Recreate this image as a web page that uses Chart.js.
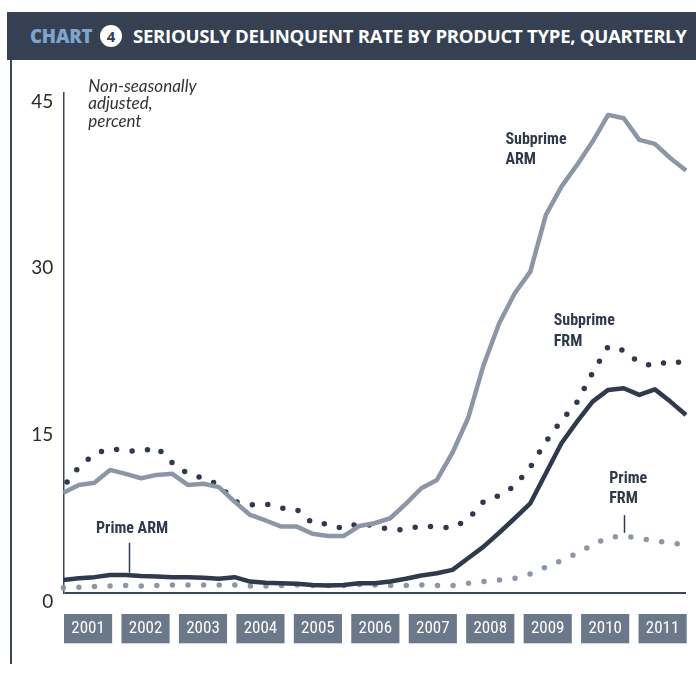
<!DOCTYPE html>
<html>
<head>
<meta charset="utf-8">
<script src="https://cdn.jsdelivr.net/npm/chart.js@4"></script>
<style>
  html, body { margin: 0; padding: 0; background: #fff; }
  #wrap { position: relative; width: 696px; height: 674px; overflow: hidden; }
  #head {
    position: absolute; left: 7px; top: 12px; width: 689px; height: 48px;
    background: #354152; color: #fff; white-space: nowrap;
    font-family: "Open Sans", sans-serif; font-weight: 700;
  }
  #head .lbl { position: absolute; left: 23px; top: 11px; font-size: 18.6px; font-weight: 800; color: #7da5cf; letter-spacing: -0.2px; }
  #head .num {
    position: absolute; left: 93px; top: 13px; width: 22px; height: 22px; border-radius: 50%;
    background: #fff; color: #354152; font-size: 15px; line-height: 22px; text-align: center;
  }
  #head .ttl { position: absolute; left: 126px; top: 11px; font-size: 18.6px; letter-spacing: -0.3px; }
  #rule { position: absolute; left: 10px; top: 60px; width: 2px; height: 604px; background: #3b4657; }
  canvas { position: absolute; left: 0; top: 0; }
</style>
</head>
<body>
<div id="wrap">
  <canvas id="c" width="696" height="674"></canvas>
  <div id="head"><span class="lbl">CHART</span><span class="num">4</span><span class="ttl">SERIOUSLY DELINQUENT RATE BY PRODUCT TYPE, QUARTERLY</span></div>
  <div id="rule"></div>
</div>
<script>
// quarterly, 2001 Q1 .. 2011 Q1
const years = ["2001", "2002", "2003", "2004", "2005", "2006", "2007", "2008", "2009", "2010", "2011"];
const quarters = years.flatMap(y => ["Q1", "Q2", "Q3", "Q4"].map(q => y + " " + q)).slice(0, 41);
const yTicks = [0, 15, 30, 45];

const subprimeArm = [9.0, 9.7, 9.9, 11.05, 10.7, 10.3, 10.6, 10.7, 9.7, 9.8, 9.5, 8.2, 7.0, 6.5, 5.95, 5.95,
  5.3, 5.1, 5.1, 6.0, 6.25, 6.7, 8.0, 9.4, 10.15, 12.6, 15.7, 20.5, 24.25, 26.95, 28.9, 34.0,
  36.55, 38.5, 40.6, 43.0, 42.7, 40.75, 40.4, 39.1, 38.0];
const subprimeFrm = [9.55, 11.3, 12.5, 12.95, 12.8, 12.7, 13.1, 11.7, 10.7, 10.3, 9.7, 8.2, 7.9, 8.0, 7.6, 7.5,
  6.25, 6.2, 5.75, 6.25, 6.0, 5.7, 5.65, 6.05, 5.9, 5.85, 6.6, 8.2, 8.75, 9.6, 11.3, 13.6,
  15.5, 17.15, 19.8, 22.15, 21.8, 20.7, 20.4, 20.9, 20.6];
const primeArm = [1.15, 1.3, 1.4, 1.6, 1.6, 1.5, 1.45, 1.4, 1.4, 1.35, 1.25, 1.4, 1.0, 0.9, 0.85, 0.8,
  0.7, 0.65, 0.7, 0.85, 0.85, 1.0, 1.25, 1.55, 1.75, 2.05, 3.1, 4.15, 5.4, 6.7, 8.05, 10.75,
  13.45, 15.4, 17.2, 18.25, 18.4, 17.8, 18.3, 17.2, 16.0];
const primeFrm = [0.45, 0.5, 0.55, 0.6, 0.65, 0.6, 0.65, 0.7, 0.7, 0.7, 0.7, 0.7, 0.6, 0.6, 0.65, 0.7,
  0.65, 0.65, 0.65, 0.75, 0.7, 0.65, 0.65, 0.7, 0.65, 0.65, 0.85, 1.0, 1.15, 1.3, 1.7, 2.3,
  2.9, 3.55, 4.3, 5.0, 5.1, 4.9, 4.65, 4.5, 4.3];

const NAVY = "#2f3b4c";
const GREY = "#8b97a6";
const narrow = '"Liberation Sans Narrow", "Roboto Condensed", "Arial Narrow", sans-serif';

// series labels: [text lines, quarter index, value of first baseline, leader line or null]
const notes = [
  { lines: ["Subprime", "ARM"], x: 28.4, y: 40.4, lead: null },
  { lines: ["Subprime", "FRM"], x: 31.5, y: 24.05, lead: null },
  { lines: ["Prime", "FRM"], x: 35.07, y: 9.9, lead: [36, 6.98, 5.39] },
  { lines: ["Prime ARM"], x: 2.1, y: 5.4, lead: [4.22, 4.5, 1.8] }
];

const extras = {
  id: "extras",
  afterDatasetsDraw(chart) {
    const { ctx, chartArea: a, scales: { x, y } } = chart;
    ctx.save();
    // unit note
    ctx.fillStyle = "#333";
    ctx.font = 'italic 17px Lato, sans-serif';
    ctx.textAlign = "left";
    ctx.textBaseline = "alphabetic";
    ["Non-seasonally", "adjusted,", "percent"].forEach((t, i) => ctx.fillText(t, a.left + 25, a.top - 1 + i * 17.5));

    // series labels
    ctx.font = "bold 16px " + narrow;
    ctx.fillStyle = NAVY;
    notes.forEach(n => {
      const px = x.getPixelForValue(n.x), py = y.getPixelForValue(n.y);
      n.lines.forEach((t, i) => ctx.fillText(t, px, py + i * 20.5));
      if (n.lead) {
        const lx = Math.round(x.getPixelForValue(n.lead[0])) + 0.5;
        ctx.strokeStyle = NAVY;
        ctx.lineWidth = 1.5;
        ctx.beginPath();
        ctx.moveTo(lx, y.getPixelForValue(n.lead[1]));
        ctx.lineTo(lx, y.getPixelForValue(n.lead[2]));
        ctx.stroke();
      }
    });

    // year boxes under the axis
    const gap = 9.3;
    const pitch = (a.right - a.left + gap) / years.length;
    ctx.font = "17px " + narrow;
    ctx.textAlign = "center";
    ctx.textBaseline = "middle";
    years.forEach((yr, i) => {
      const bx = a.left + 0.7 + i * pitch;
      ctx.fillStyle = "#6b788a";
      ctx.fillRect(bx, a.bottom + 21.3, pitch - gap, 29.3);
      ctx.fillStyle = "#fff";
      ctx.fillText(yr, bx + (pitch - gap) / 2, a.bottom + 36.5);
    });
    ctx.restore();
  }
};

new Chart(document.getElementById("c"), {
  type: "line",
  data: {
    labels: quarters,
    datasets: [
      { label: "Prime ARM", data: primeArm, borderColor: NAVY, borderWidth: 4.5 },
      { label: "Subprime ARM", data: subprimeArm, borderColor: GREY, borderWidth: 4.5 },
      { label: "Subprime FRM", data: subprimeFrm, borderColor: NAVY, borderWidth: 5.5,
        borderDash: [0, 15.6], borderDashOffset: -6, borderCapStyle: "round" },
      { label: "Prime FRM", data: primeFrm, borderColor: GREY, borderWidth: 5.5,
        borderDash: [0, 15.6], borderDashOffset: -15.6, borderCapStyle: "round" }
    ]
  },
  options: {
    responsive: false,
    animation: false,
    devicePixelRatio: 1,
    layout: { padding: { top: 92.7, right: 10, bottom: 81.3, left: 0 } },
    elements: {
      point: { radius: 0 },
      line: { tension: 0, borderJoinStyle: "round", fill: false }
    },
    plugins: { legend: { display: false }, tooltip: { enabled: false } },
    scales: {
      x: { display: false, offset: false },
      y: {
        min: 0, max: 45,
        afterFit: s => { s.width = 63.3; },
        afterBuildTicks: s => { s.ticks = yTicks.map(v => ({ value: v })); },
        ticks: { padding: 10, labelOffset: 9, color: "#2b2b2b", font: { family: "Lato", size: 19 } },
        grid: {
          drawTicks: false,
          lineWidth: 2,
          color: c => (c.tick && c.tick.value === 0 ? "#3b4657" : "transparent")
        },
        border: { display: true, color: "#3b4657", width: 1.5 }
      }
    }
  },
  plugins: [extras]
});
</script>
</body>
</html>
